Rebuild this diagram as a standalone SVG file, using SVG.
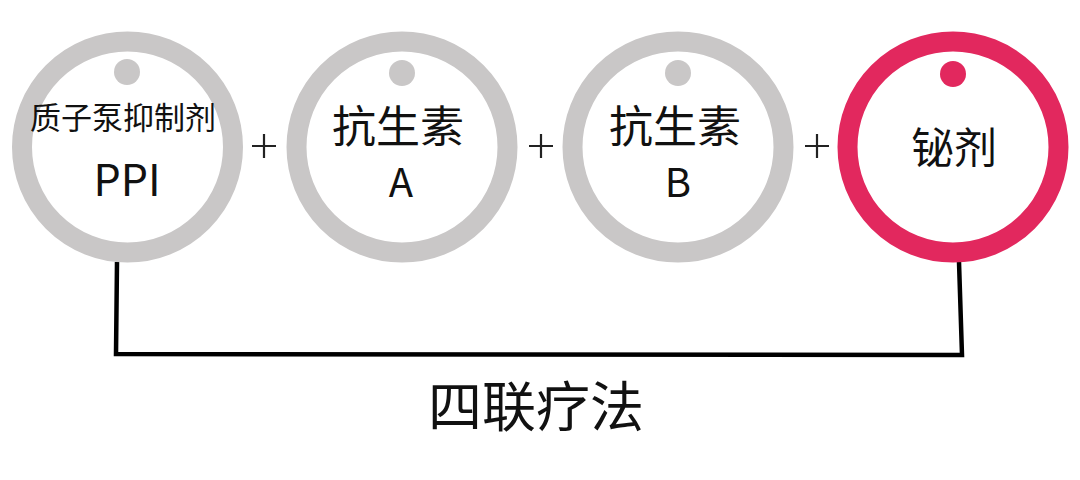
<svg xmlns="http://www.w3.org/2000/svg" width="1080" height="480" viewBox="0 0 1080 480">
<style>
.ring{fill:none;stroke:#c9c7c7;stroke-width:20}
.dot{fill:#c9c7c7}
.ring.hi{stroke:#e2285e}
.dot.hi{fill:#e2285e}
text{font-family:"Noto Sans CJK SC","Noto Sans",sans-serif;fill:#111;text-anchor:middle}
.plus{stroke:#222;stroke-width:2.2}
</style>
<rect width="1080" height="480" fill="#fff"/>
<g id="connectors">
<path d="M117 262 L116 354 L962 355 L959 262" fill="none" stroke="#000" stroke-width="4.5" stroke-linejoin="miter"/>
<path class="plus" d="M252 146 H276 M264 134 V158"/>
<path class="plus" d="M529 146 H553 M541 134 V158"/>
<path class="plus" d="M805 146 H829 M817 134 V158"/>
</g>
<g id="node-ppi">
<circle class="ring" cx="127.5" cy="147" r="105.5"/>
<circle class="dot" cx="127" cy="72" r="13"/>
<text x="123" y="129" font-size="31">质子泵抑制剂</text>
<text x="127" y="196" font-size="43">PPI</text>
</g>
<g id="node-antibiotic-a">
<circle class="ring" cx="402" cy="147" r="105.5"/>
<circle class="dot" cx="402" cy="73" r="13"/>
<text x="398" y="143" font-size="44">抗生素</text>
<text x="401" y="197" font-size="40">A</text>
</g>
<g id="node-antibiotic-b">
<circle class="ring" cx="678" cy="147" r="105.5"/>
<circle class="dot" cx="678" cy="73" r="13"/>
<text x="675" y="143" font-size="44">抗生素</text>
<text x="678" y="197" font-size="40">B</text>
</g>
<g id="node-bismuth">
<circle class="ring hi" cx="953" cy="147" r="105.5"/>
<circle class="dot hi" cx="953" cy="74" r="13"/>
<text x="954" y="164" font-size="43">铋剂</text>
</g>
<g id="label">
<text x="536" y="427" font-size="54">四联疗法</text>
</g>
</svg>
